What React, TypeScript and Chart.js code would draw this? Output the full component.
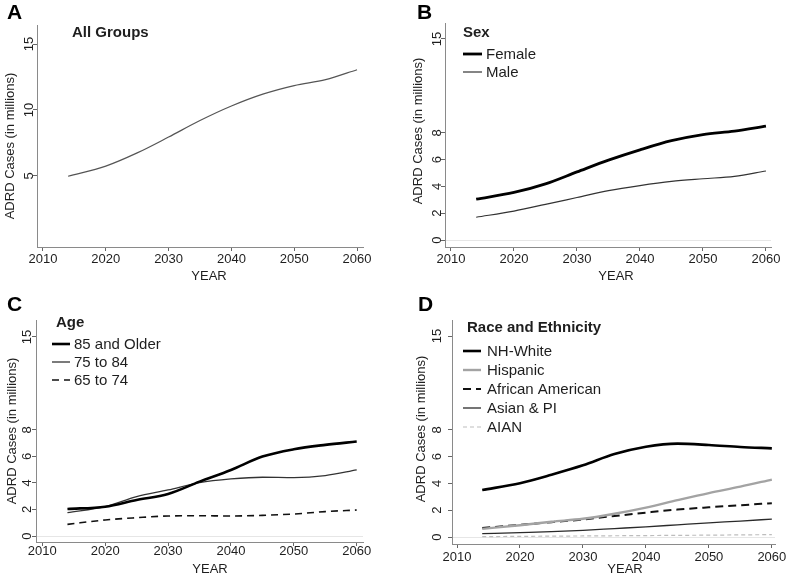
import React, { useEffect, useRef } from "react";
import { Chart, registerables } from "chart.js";
Chart.register(...registerables);

const years = [2014, 2020, 2025, 2030, 2035, 2040, 2045, 2050, 2055, 2060];
const allGroups = [4.98, 5.75, 6.75, 7.95, 9.2, 10.3, 11.2, 11.85, 12.3, 13.05];
const female = [3.05, 3.55, 4.19, 5.08, 5.96, 6.73, 7.41, 7.87, 8.12, 8.5];
const male = [1.7, 2.16, 2.66, 3.17, 3.68, 4.06, 4.37, 4.57, 4.75, 5.15];
const age85Older = [2.04, 2.21, 2.72, 3.17, 4.1, 4.98, 5.99, 6.54, 6.87, 7.12];
const age75to84 = [1.76, 2.21, 2.97, 3.47, 4.02, 4.3, 4.43, 4.4, 4.55, 4.98];
const age65to74 = [0.88, 1.21, 1.38, 1.51, 1.53, 1.51, 1.56, 1.66, 1.84, 1.96];
const nhWhite = [3.51, 4.02, 4.65, 5.35, 6.19, 6.74, 6.97, 6.87, 6.72, 6.62];
const hispanic = [0.61, 0.88, 1.14, 1.36, 1.74, 2.2, 2.75, 3.28, 3.76, 4.29];
const africanAmerican = [0.68, 0.91, 1.11, 1.31, 1.57, 1.82, 2.05, 2.22, 2.37, 2.53];
const asianPI = [0.25, 0.33, 0.4, 0.5, 0.63, 0.76, 0.91, 1.06, 1.19, 1.34];
const aian = [0.03, 0.05, 0.065, 0.08, 0.095, 0.11, 0.125, 0.14, 0.16, 0.18];

const xTickValues = [2010, 2020, 2030, 2040, 2050, 2060];
const yTicksA = [5, 10, 15];
const yTicksOther = [0, 2, 4, 6, 8, 15];

const FONT = "'Liberation Sans', Arial, Helvetica, sans-serif";
const TEXT = "#1e1e1e";

type Series = { label?: string; values: number[]; color: string; width: number; dash?: number[] };
type PanelCfg = {
  letter: string; letterX: number; letterY: number;
  heading: string; headingX: number; headingY: number;
  series: Series[];
  area: { l: number; t: number; r: number; b: number };
  xMin: number; xMax: number; yMin: number; yMax: number; yTicks: number[];
  yTitleX: number; yTitleY: number; yearX: number; yearY: number; xLabelY: number; yLabelX: number;
  legendX1: number; legendX2: number; legendTextX: number; legendY0: number; legendGap: number;
  left: number; top: number;
};

const W = 400;
const H = 290;

const panels: PanelCfg[] = [
  {
    letter: "A", letterX: 7, letterY: 13, heading: "All Groups", headingX: 72, headingY: 33,
    series: [{ values: allGroups, color: "#555", width: 1.2 }],
    area: { l: 37, t: 25, r: 363, b: 247 }, xMin: 2009.05, xMax: 2060.95, yMin: -0.38, yMax: 16.44, yTicks: yTicksA,
    yTitleX: 10, yTitleY: 146, yearX: 209, yearY: 276, xLabelY: 259, yLabelX: 29,
    legendX1: 0, legendX2: 0, legendTextX: 0, legendY0: 0, legendGap: 0, left: 0, top: 0,
  },
  {
    letter: "B", letterX: 17, letterY: 13, heading: "Sex", headingX: 63, headingY: 33,
    series: [
      { label: "Female", values: female, color: "#000", width: 2.8 },
      { label: "Male", values: male, color: "#333", width: 1.2 },
    ],
    area: { l: 45, t: 23, r: 371, b: 247 }, xMin: 2009.05, xMax: 2060.8, yMin: -0.52, yMax: 16.19, yTicks: yTicksOther,
    yTitleX: 18, yTitleY: 131, yearX: 216, yearY: 276, xLabelY: 259, yLabelX: 37,
    legendX1: 63, legendX2: 82, legendTextX: 86, legendY0: 54, legendGap: 18, left: 400, top: 0,
  },
  {
    letter: "C", letterX: 7, letterY: 15, heading: "Age", headingX: 56, headingY: 33,
    series: [
      { label: "85 and Older", values: age85Older, color: "#000", width: 2.6 },
      { label: "75 to 84", values: age75to84, color: "#333", width: 1.3 },
      { label: "65 to 74", values: age65to74, color: "#111", width: 1.6, dash: [7, 5] },
    ],
    area: { l: 36, t: 30, r: 363, b: 252 }, xMin: 2009, xMax: 2061, yMin: -0.45, yMax: 16.28, yTicks: yTicksOther,
    yTitleX: 12, yTitleY: 141, yearX: 210, yearY: 279, xLabelY: 261, yLabelX: 27,
    legendX1: 52, legendX2: 70, legendTextX: 74, legendY0: 54, legendGap: 18, left: 0, top: 290,
  },
  {
    letter: "D", letterX: 18, letterY: 15, heading: "Race and Ethnicity", headingX: 67, headingY: 38,
    series: [
      { label: "NH-White", values: nhWhite, color: "#000", width: 2.6 },
      { label: "Hispanic", values: hispanic, color: "#a3a3a3", width: 2.4 },
      { label: "African American", values: africanAmerican, color: "#111", width: 2, dash: [8, 5] },
      { label: "Asian & PI", values: asianPI, color: "#2a2a2a", width: 1.3 },
      { label: "AIAN", values: aian, color: "#bdbdbd", width: 1.2, dash: [4, 3] },
    ],
    area: { l: 52, t: 30, r: 375, b: 254 }, xMin: 2009.2, xMax: 2060.5, yMin: -0.52, yMax: 16.2, yTicks: yTicksOther,
    yTitleX: 21, yTitleY: 139, yearX: 225, yearY: 279, xLabelY: 267, yLabelX: 37,
    legendX1: 63, legendX2: 81, legendTextX: 87, legendY0: 61, legendGap: 19, left: 400, top: 290,
  },
];

function makeDecor(cfg: PanelCfg) {
  return {
    id: "decor" + cfg.letter,
    afterDraw(chart: any) {
      const ctx = chart.ctx as CanvasRenderingContext2D;
      const xs = chart.scales.x;
      const ys = chart.scales.y;
      ctx.save();
      ctx.fillStyle = "#000";
      ctx.textAlign = "left";
      ctx.textBaseline = "middle";
      ctx.font = `bold 21px ${FONT}`;
      ctx.fillText(cfg.letter, cfg.letterX, cfg.letterY);

      ctx.fillStyle = TEXT;
      ctx.font = `bold 15px ${FONT}`;
      ctx.fillText(cfg.heading, cfg.headingX, cfg.headingY);

      // legend
      ctx.font = `15px ${FONT}`;
      cfg.series.forEach((s, i) => {
        if (!s.label) return;
        const y = cfg.legendY0 + i * cfg.legendGap;
        ctx.save();
        ctx.strokeStyle = s.color;
        ctx.lineWidth = s.width;
        ctx.setLineDash(s.dash || []);
        ctx.beginPath();
        ctx.moveTo(cfg.legendX1, y);
        ctx.lineTo(cfg.legendX2, y);
        ctx.stroke();
        ctx.restore();
        ctx.fillStyle = TEXT;
        ctx.fillText(s.label, cfg.legendTextX, y + 1);
      });

      // x tick labels
      ctx.font = `13px ${FONT}`;
      ctx.textAlign = "center";
      xTickValues.forEach((v) => {
        ctx.fillText(String(v), xs.getPixelForValue(v), cfg.xLabelY);
      });
      ctx.fillText("YEAR", cfg.yearX, cfg.yearY);

      // y tick labels (rotated)
      cfg.yTicks.forEach((v) => {
        ctx.save();
        ctx.translate(cfg.yLabelX, ys.getPixelForValue(v));
        ctx.rotate(-Math.PI / 2);
        ctx.fillText(String(v), 0, 0);
        ctx.restore();
      });
      ctx.save();
      ctx.translate(cfg.yTitleX, cfg.yTitleY);
      ctx.rotate(-Math.PI / 2);
      ctx.fillText("ADRD Cases (in millions)", 0, 0);
      ctx.restore();
      ctx.restore();
    },
  };
}

function Panel({ cfg }: { cfg: PanelCfg }) {
  const ref = useRef<HTMLCanvasElement | null>(null);
  useEffect(() => {
    if (!ref.current) return;
    const a = cfg.area;
    const chart = new Chart(ref.current, {
      type: "line",
      data: {
        datasets: cfg.series.map((s) => ({
          label: s.label || "All Groups",
          data: years.map((x, i) => ({ x, y: s.values[i] })),
          borderColor: s.color,
          borderWidth: s.width,
          borderDash: s.dash || [],
          pointRadius: 0,
          fill: false,
          cubicInterpolationMode: "monotone" as const,
        })),
      },
      options: {
        responsive: false,
        animation: false,
        events: [],
        layout: { padding: { left: 0, top: a.t, right: W - a.r, bottom: 0 } },
        plugins: { legend: { display: false }, tooltip: { enabled: false }, title: { display: false } },
        scales: {
          x: {
            type: "linear",
            min: cfg.xMin,
            max: cfg.xMax,
            afterBuildTicks: (s: any) => { s.ticks = xTickValues.map((v) => ({ value: v })); },
            afterFit: (s: any) => { s.height = H - a.b; },
            ticks: { display: false },
            grid: { drawOnChartArea: false, color: "transparent", tickColor: "#666", tickLength: 4 },
            border: { color: "#8a8a8a", width: 1 },
          },
          y: {
            type: "linear",
            min: cfg.yMin,
            max: cfg.yMax,
            afterBuildTicks: (s: any) => { s.ticks = cfg.yTicks.map((v) => ({ value: v })); },
            afterFit: (s: any) => { s.width = a.l; },
            ticks: { display: false },
            grid: {
              color: (c: any) => (c.tick && c.tick.value === 0 ? "#e6e6e6" : "transparent"),
              tickColor: "#666",
              tickLength: 4,
            },
            border: { color: "#8a8a8a", width: 1 },
          },
        },
      } as any,
      plugins: [makeDecor(cfg)],
    });
    return () => chart.destroy();
  }, [cfg]);
  return (
    <canvas
      ref={ref}
      width={W}
      height={H}
      style={{ position: "absolute", left: cfg.left, top: cfg.top, width: W, height: H }}
    />
  );
}

export default function App() {
  return (
    <div style={{ position: "absolute", left: 0, top: 0, width: 800, height: 580, background: "#fff", overflow: "hidden" }}>
      {panels.map((p) => (
        <Panel key={p.letter} cfg={p} />
      ))}
    </div>
  );
}
